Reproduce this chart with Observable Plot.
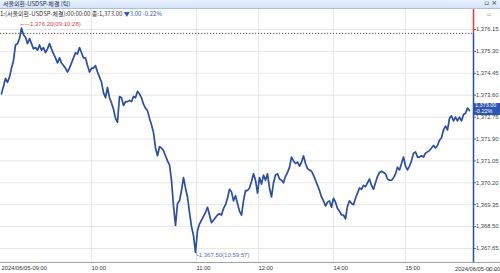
<!DOCTYPE html>
<html><head><meta charset="utf-8">
<script src="https://cdn.jsdelivr.net/npm/d3@7"></script>
<script src="https://cdn.jsdelivr.net/npm/@observablehq/plot@0.6"></script>
<style>
html,body{margin:0;padding:0;background:#fff;}
#wrap{position:relative;width:500px;height:273px;overflow:hidden;font-family:"Liberation Sans",Arial,sans-serif;}
#titlebar{height:8px;border-bottom:1px solid #a8c2df;background:linear-gradient(#e9f2fc,#d3e3f5);position:relative;}
#titlebar .t{position:absolute;left:3px;top:-1px;font:6px "Noto Sans CJK KR",sans-serif;color:#1c2f55;line-height:9px;}
#titlebar .ic{position:absolute;right:3px;top:-1px;font:7px "DejaVu Sans",sans-serif;color:#2a3a5a;line-height:9px;}
#info{position:absolute;left:0;top:9px;font:6px "Noto Sans CJK KR",sans-serif;color:#333;line-height:9px;white-space:nowrap;}
#info .dn{color:#2f55c8;}
#btn{position:absolute;right:5px;top:10px;font:6px "DejaVu Sans",sans-serif;color:#999;}
#last{position:absolute;left:474px;width:26px;height:12px;background:#2d56b3;color:#fff;font:5.5px "Liberation Sans",Arial,sans-serif;line-height:5.8px;text-align:left;padding-left:1px;box-sizing:border-box;}
#xline{position:absolute;left:0;width:500px;height:1.5px;background:#a0a0a0;}
</style></head>
<body><div id="wrap">
<div id="titlebar"><span class="t">서울외환-USDSP-체결 (틱)</span><span class="ic">▫ ×</span></div>
<div id="chart"></div>
</div>
<script>
const title = "서울외환-USDSP-체결 (틱)";
const infoName = "1:(서울외환-USDSP-체결):00:00:00 종:1,373.00";
const infoChange = "▼3.00 -0.22%";
const lastPrice = 1373.00;
const prevClose = 1376.00;
const lastPct = "-0.22%";
const maxTime = "09:10:28";
const minTime = "10:59:57";
const yTicks = [1376.15,1375.30,1374.45,1373.60,1372.75,1371.90,1371.05,1370.20,1369.35,1368.50,1367.65];
const yDomain = [1367.107, 1376.926];
const xTickIdx = [0, 45, 97.5, 128.5, 166, 202];
const xTickLabels = ["2024/06/05-09:00","10:00","11:00","12:00","14:00","15:00"];
const endLabel = "2024/06/05-00:00";
const prices = [
1373.65,1373.95,1374.25,1374.10,1374.30,1374.65,1374.95,1375.55,1375.60,1375.80,
1376.20,1375.95,1375.85,1375.60,1375.80,1375.60,1375.40,1375.45,1375.35,1375.55,
1375.35,1375.45,1375.25,1375.40,1375.60,1375.40,1375.20,1375.05,1374.85,1375.05,
1374.85,1374.75,1374.65,1374.50,1374.65,1374.85,1375.05,1375.25,1375.20,1375.45,
1375.25,1375.05,1375.05,1374.75,1374.50,1374.65,1374.65,1374.75,1374.50,1374.30,
1374.10,1373.70,1373.50,1373.90,1373.50,1373.30,1373.05,1372.70,1372.55,1373.55,
1373.50,1373.20,1373.35,1373.35,1373.40,1373.35,1373.55,1373.50,1373.75,1373.65,
1373.50,1373.25,1373.10,1373.00,1372.70,1372.45,1372.15,1371.55,1371.25,1371.60,
1371.55,1371.45,1371.25,1371.05,1370.90,1370.30,1369.30,1368.55,1369.40,1369.50,
1369.90,1370.40,1370.00,1369.65,1369.05,1368.50,1368.15,1367.50,1368.35,1368.60,
1368.75,1368.90,1369.05,1369.25,1368.95,1368.65,1368.75,1368.85,1368.95,1369.00,
1368.95,1369.20,1369.35,1369.60,1369.95,1369.85,1369.50,1369.70,1369.40,1369.10,
1368.95,1369.50,1369.90,1369.90,1370.00,1370.25,1370.55,1370.30,1369.80,1370.40,
1370.15,1370.50,1370.30,1370.55,1370.00,1369.65,1370.20,1370.50,1370.55,1370.35,
1370.30,1370.20,1370.45,1370.60,1370.80,1371.20,1371.05,1370.95,1371.00,1370.85,
1371.00,1371.25,1370.95,1370.75,1370.70,1370.65,1370.50,1370.30,1370.10,1369.90,
1369.65,1369.50,1369.30,1369.45,1369.50,1369.25,1369.60,1369.45,1369.20,1369.10,
1368.95,1368.95,1368.80,1369.30,1369.50,1369.40,1369.35,1369.60,1369.80,1370.00,
1369.95,1370.10,1370.05,1370.20,1370.35,1370.10,1369.95,1370.20,1370.45,1370.60,
1370.65,1370.60,1370.55,1370.35,1370.30,1370.30,1370.40,1370.55,1370.80,1370.70,
1370.95,1371.20,1370.85,1370.70,1370.85,1371.05,1371.35,1371.40,1371.20,1371.20,
1371.25,1371.20,1371.35,1371.40,1371.45,1371.55,1371.65,1371.55,1371.65,1371.85,
1371.95,1372.25,1372.40,1372.25,1372.70,1372.80,1372.60,1372.75,1372.60,1372.75,
1372.60,1372.85,1372.90,1373.10,1373.00
];

const data = prices.map((p, i) => ({i, p}));
const maxI = d3.maxIndex(prices), minI = d3.minIndex(prices);
const fmt = d3.format(",.2f");
const xDomain = [-0.5, 236];

const plot = Plot.plot({
  width: 500, height: 264,
  marginLeft: 0, marginRight: 27, marginTop: 0, marginBottom: 11,
  style: {fontFamily: "'Liberation Sans', Arial, sans-serif", background: "transparent", overflow: "visible"},
  x: {type: "linear", domain: xDomain},
  y: {domain: yDomain},
  marks: [
    Plot.gridY(yTicks, {stroke: "#e6e6e6", strokeOpacity: 1}),
    Plot.gridX(xTickIdx.slice(1), {stroke: "#e6e6e6", strokeOpacity: 1}),
    Plot.ruleY([prevClose], {stroke: "#555", strokeDasharray: "1.2,1.8", strokeWidth: 1}),
    Plot.line(data, {x: "i", y: "p", stroke: "#2b4e9e", strokeWidth: 1.7, curve: "linear"}),
    Plot.ruleX([{a: prevClose, b: yDomain[1]}], {x: () => xDomain[1], y1: "a", y2: "b", stroke: "#e03a3a", strokeWidth: 1.5}),
    Plot.ruleX([{a: yDomain[0], b: prevClose}], {x: () => xDomain[1], y1: "a", y2: "b", stroke: "#2b4e9e", strokeWidth: 1.5}),
    Plot.axisY(yTicks, {anchor: "right", tickFormat: fmt, tickSize: 2, tickPadding: 0.5, fontSize: 5.8, fill: "#444", stroke: "#666"}),
    Plot.axisX(xTickIdx, {anchor: "bottom", tickFormat: (d, k) => xTickLabels[k], tickSize: 0, tickPadding: 3, textAnchor: "start", fontSize: 5.8, fill: "#333"}),
    Plot.text([endLabel], {frameAnchor: "bottom-right", text: d => d, dx: 27, dy: 8, textAnchor: "end", fontSize: 5.8, fill: "#333"}),
    Plot.text([maxI], {x: d => d, y: d => prices[d], text: d => "⌐—" + fmt(prices[d]) + "(" + maxTime + ")", textAnchor: "start", dx: -1, dy: -4, fontSize: 6, fill: "#e04848"}),
    Plot.text([minI], {x: d => d, y: d => prices[d], text: d => "└" + fmt(prices[d]) + "(" + minTime + ")", textAnchor: "start", dx: -1, dy: 3, fontSize: 6, fill: "#5a72b8"})
  ]
});
document.getElementById("chart").appendChild(plot);

const wrap = document.getElementById("wrap");
const info = document.createElement("div");
info.id = "info";
info.innerHTML = infoName + " <span class='dn'>" + infoChange + "</span>";
wrap.appendChild(info);
const btn = document.createElement("div");
btn.id = "btn"; btn.textContent = "▫ ·";
wrap.appendChild(btn);

const ys = plot.scale("y");
const last = document.createElement("div");
last.id = "last";
last.style.top = (9 + ys.apply(lastPrice) - 7) + "px";
last.innerHTML = fmt(lastPrice) + "<br>" + lastPct;
wrap.appendChild(last);
const xl = document.createElement("div");
xl.id = "xline";
xl.style.top = (9 + ys.apply(yDomain[0]) - 0.5) + "px";
wrap.appendChild(xl);
</script>
</body></html>
